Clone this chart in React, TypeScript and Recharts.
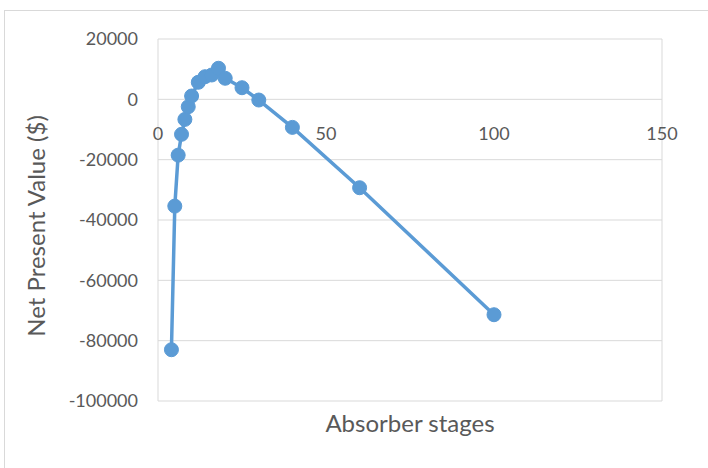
import React from 'react';
import {
  LineChart,
  Line,
  XAxis,
  YAxis,
  CartesianGrid,
  ReferenceDot,
} from 'recharts';

// Number of absorber stages vs. net present value ($)
const stages = [4, 5, 6, 7, 8, 9, 10, 12, 14, 16, 18, 20, 25, 30, 40, 60, 100];
const npv = [
  -83000, -35400, -18500, -11600, -6650, -2460, 1100, 5650, 7500, 8070, 10300,
  6980, 3850, -230, -9300, -29300, -71400,
];

const xTicks = [0, 50, 100, 150];
const yTicks = [-100000, -80000, -60000, -40000, -20000, 0, 20000];

const data = stages.map((s, i) => ({ stages: s, npv: npv[i] }));

const FONT = 'Lato, "Open Sans", sans-serif';
const TEXT = '#595959';
const GRID = '#d9d9d9';
const BLUE = '#5b9bd5';

// x tick labels sit just under the zero line, where the category axis crosses
const ZeroLineTick = (props: any) => {
  const vb = props.viewBox || {};
  return (
    <text
      x={vb.x}
      y={vb.y + 40.5}
      textAnchor="middle"
      fill={TEXT}
      fontSize={18}
      fontFamily={FONT}
    >
      {props.value}
    </text>
  );
};

const YTitle = (props: any) => {
  const vb = props.viewBox || {};
  const x = vb.x + 37;
  const y = vb.y + vb.height / 2 + 6;
  return (
    <text
      x={x}
      y={y}
      transform={`rotate(-90, ${x}, ${y})`}
      textAnchor="middle"
      fill={TEXT}
      fontSize={24}
      fontFamily={FONT}
    >
      Net Present Value ($)
    </text>
  );
};

const XTitle = (props: any) => {
  const vb = props.viewBox || {};
  return (
    <text
      x={vb.x + vb.width / 2}
      y={vb.y + 31}
      textAnchor="middle"
      fill={TEXT}
      fontSize={24}
      fontFamily={FONT}
    >
      Absorber stages
    </text>
  );
};

export default function App() {
  return (
    <div
      style={{
        position: 'fixed',
        left: 0,
        top: 0,
        width: 708,
        height: 468,
        overflow: 'hidden',
        background: '#fff',
      }}
    >
      <div
        style={{
          position: 'absolute',
          left: 4,
          top: 10,
          width: 760,
          height: 520,
          borderLeft: `1px solid ${GRID}`,
          borderTop: `1px solid ${GRID}`,
        }}
      />
      <div style={{ position: 'absolute', left: 0, top: 0 }}>
        <LineChart
          width={708}
          height={468}
          data={data}
          margin={{ top: 39, right: 46, bottom: 0, left: 8 }}
        >
          <CartesianGrid stroke={GRID} strokeWidth={1} />
          <XAxis
            type="number"
            dataKey="stages"
            domain={[0, 150]}
            ticks={xTicks}
            tick={false}
            tickLine={false}
            axisLine={false}
            height={67}
            label={<XTitle />}
          />
          <YAxis
            type="number"
            domain={[-100000, 20000]}
            ticks={yTicks}
            width={150}
            tickLine={false}
            axisLine={false}
            tickMargin={14}
            tick={{ fill: TEXT, fontSize: 18, fontFamily: FONT }}
            label={<YTitle />}
          />
          {xTicks.map((t) => (
            <ReferenceDot
              key={t}
              x={t}
              y={0}
              r={0}
              fill="none"
              stroke="none"
              label={<ZeroLineTick value={t} />}
            />
          ))}
          <Line
            type="linear"
            dataKey="npv"
            stroke={BLUE}
            strokeWidth={3.5}
            dot={{ r: 7, fill: BLUE, stroke: BLUE, strokeWidth: 1 }}
            activeDot={false}
            isAnimationActive={false}
          />
        </LineChart>
      </div>
    </div>
  );
}
